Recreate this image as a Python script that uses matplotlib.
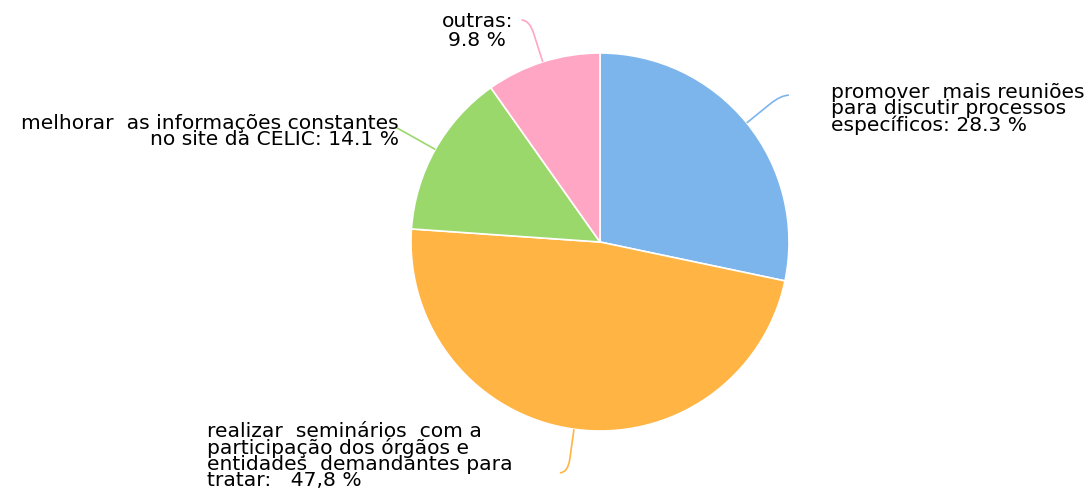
import numpy as np
import matplotlib
matplotlib.use('Agg')
import matplotlib.pyplot as plt
from matplotlib.path import Path
from matplotlib.patches import PathPatch

# slice values, clockwise from the top
values = [28.3, 47.8, 14.1, 9.8]
labels = [
    "promover  mais reuniões\npara discutir processos\nespecíficos: 28.3 %",
    "realizar  seminários  com a\nparticipação dos órgãos e\nentidades  demandantes para\ntratar:   47,8 %",
    "melhorar  as informações constantes\nno site da CELIC: 14.1 %",
    "outras:\n9.8 %",
]
colors = ["#7cb5ec", "#ffb443", "#9bd86b", "#ffa6c4"]

W, H = 1092, 495
fig = plt.figure(figsize=(W / 100, H / 100), dpi=100)
ax = fig.add_axes([0, 0, 1, 1])

cx, cy, r = 600, H - 242, 189
wedges, _ = ax.pie(values, colors=colors, startangle=90, counterclock=False,
                   center=(cx, cy), radius=r, frame=True,
                   wedgeprops=dict(edgecolor='white', linewidth=1.2))
ax.set_xlim(0, W)
ax.set_ylim(0, H)
ax.set_aspect('equal')
ax.axis('off')

# label placement: offset from connector end (px), ha, multialign, linespacing
label_style = [
    ((42, 12), 'left', 'left', 0.8),
    ((-47, 51), 'right', 'left', 0.82),
    ((2, 14), 'right', 'right', 0.82),
    ((-44, 8), 'center', 'center', 0.98),
]

for w, lab, col, (off, ha, ma, ls) in zip(wedges, labels, colors, label_style):
    mid = np.deg2rad((w.theta1 + w.theta2) / 2)
    c, s = np.cos(mid), np.sin(mid)
    hook = 8 if c > 0 else -8
    if abs(c) > 0.8:
        hook = 0
    p0 = (cx + r * c, cy + r * s)
    p1 = (cx + (r + 30) * c, cy + (r + 30) * s)
    p2 = (cx + (r + 44) * c, cy + (r + 44) * s)
    p3 = (p2[0] + hook, p2[1])
    path = Path([p0, p1, p2, p3], [Path.MOVETO, Path.LINETO, Path.CURVE3, Path.CURVE3])
    ax.add_patch(PathPatch(path, facecolor='none', edgecolor=col, linewidth=1.2))
    ax.text(p3[0] + off[0], p3[1] + off[1], lab, ha=ha, va='top', multialignment=ma,
            fontsize=14.6, linespacing=ls, color='black', family='DejaVu Sans')

fig.savefig("out.png", dpi=100)
